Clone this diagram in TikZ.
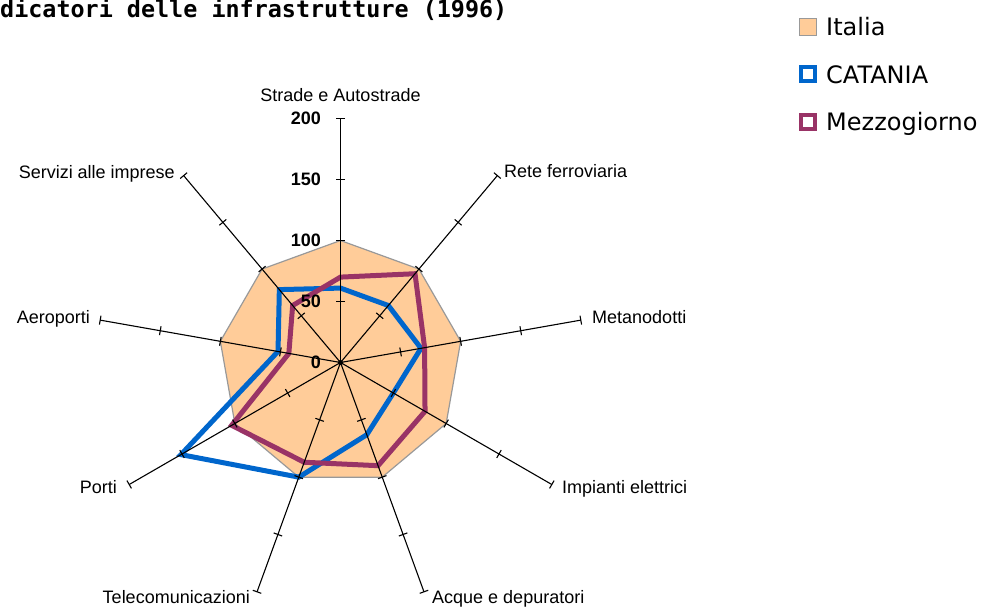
\documentclass[tikz,border=0pt]{standalone}
\usepackage{fontspec}
\setmainfont{Liberation Sans}
\newfontfamily\titlefont{DejaVu Sans Mono}
\newfontfamily\legfont{DejaVu Sans}
\usetikzlibrary{calc}
\definecolor{italia}{HTML}{FFCC99}
\definecolor{catblue}{HTML}{0066CC}
\definecolor{mezzo}{HTML}{993366}
\definecolor{bordergray}{HTML}{999999}
\begin{document}
\begin{tikzpicture}[x=1pt,y=-1pt,
  axislabel/.style={font=\fontsize{18}{20}\selectfont, inner sep=0pt},
  numlabel/.style={font=\fontsize{18}{20}\selectfont\bfseries, inner sep=0pt, anchor=east},
  axisline/.style={black, line width=1.1pt},
  catline/.style={catblue, line width=5pt, line join=miter},
  mezline/.style={mezzo, line width=5pt, line join=miter},
  italiafill/.style={fill=italia, draw=bordergray, line width=1.2pt, line join=miter},
  legtext/.style={font=\legfont\fontsize{24}{26}\selectfont, inner sep=0pt, anchor=base west},
  legbox/.style={minimum size=#1, inner sep=0pt},
]
\useasboundingbox (0,0) rectangle (981,608);

% title
\node[font=\titlefont\bfseries\fontsize{23.4}{26}\selectfont, anchor=base west, inner sep=0pt] (title) at (0,17.5) {dicatori delle infrastrutture (1996)};

\coordinate (C) at (340.5,362.5);

% Italia = 100 on every axis
\foreach \i in {0,...,8} \coordinate (it\i) at ($(C)+({-90+40*\i}:122)$);
\filldraw[italiafill] (it0) -- (it1) -- (it2) -- (it3) -- (it4) -- (it5) -- (it6) -- (it7) -- (it8) -- cycle;

% CATANIA
\foreach \v [count=\j from 0] in {61,61,67,50,63,100,151,52,78}
  \coordinate (cat\j) at ($(C)+({-90+40*\j}:{1.22*\v})$);
\draw[catline] (cat0) -- (cat1) -- (cat2) -- (cat3) -- (cat4) -- (cat5) -- (cat6) -- (cat7) -- (cat8) -- cycle;

% Mezzogiorno
\foreach \v [count=\j from 0] in {70,95,70,80,90,87,103,43,61}
  \coordinate (mez\j) at ($(C)+({-90+40*\j}:{1.22*\v})$);
\draw[mezline] (mez0) -- (mez1) -- (mez2) -- (mez3) -- (mez4) -- (mez5) -- (mez6) -- (mez7) -- (mez8) -- cycle;

% axes with ticks
\foreach \i in {0,...,8} {
  \coordinate (ax\i) at ($(C)+({-90+40*\i}:244)$);
  \draw[axisline] (C) -- (ax\i);
  \foreach \t in {50,100,150,200} {
    \draw[axisline] ($(C)+({-90+40*\i}:{1.22*\t})+({40*\i}:4.5)$) -- ($(C)+({-90+40*\i}:{1.22*\t})+({180+40*\i}:4.5)$);
  }
}
\fill[black] (C) circle (2.5);

% scale numbers
\node[numlabel] (n0) at (321,362.5) {0};
\node[numlabel] (n50) at (321,301.5) {50};
\node[numlabel] (n100) at (321,240.5) {100};
\node[numlabel] (n150) at (321,179.5) {150};
\node[numlabel] (n200) at (321,118.5) {200};

% axis labels
\node[axislabel, anchor=base] (lstrade) at (340.5,101) {Strade e Autostrade};
\node[axislabel, anchor=base west] (lrete) at (504,177) {Rete ferroviaria};
\node[axislabel, anchor=base west] (lmeta) at (592,323) {Metanodotti};
\node[axislabel, anchor=base west] (limp) at (562,493) {Impianti elettrici};
\node[axislabel, anchor=base west] (lacq) at (432,603) {Acque e depuratori};
\node[axislabel, anchor=base east] (ltel) at (250,603) {Telecomunicazioni};
\node[axislabel, anchor=base east] (lporti) at (117,493) {Porti};
\node[axislabel, anchor=base east] (laero) at (90,323) {Aeroporti};
\node[axislabel, anchor=base east] (lserv) at (175,178) {Servizi alle imprese};

% legend
\node[legbox=17pt, fill=italia, draw=bordergray, line width=1pt] (kit) at (808,26.5) {};
\node[legbox=14pt, fill=white, draw=catblue, line width=4pt] (kcat) at (808,74) {};
\node[legbox=14pt, fill=white, draw=mezzo, line width=4pt] (kmez) at (808,121.5) {};
\node[legtext] (tit) at (826,35) {Italia};
\node[legtext] (tcat) at (826,83) {CATANIA};
\node[legtext] (tmez) at (826,130) {Mezzogiorno};
\end{tikzpicture}
\end{document}
